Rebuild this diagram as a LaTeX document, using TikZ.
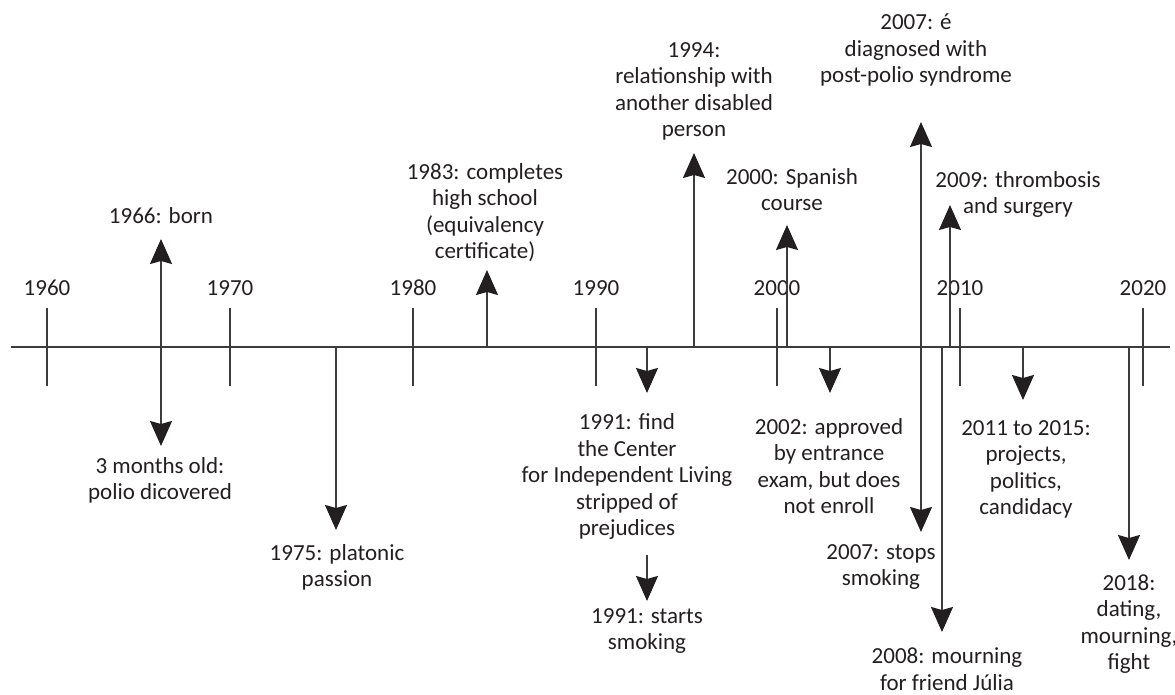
\documentclass[tikz,border=0pt]{standalone}
\usepackage{fontspec}
\setmainfont{Carlito}
\usetikzlibrary{arrows.meta}
\definecolor{ink}{RGB}{35,31,32}
\definecolor{rule}{RGB}{60,60,60}
\begin{document}
\begin{tikzpicture}[x=0.5pt, y=-0.5pt,
    lbl/.style={align=center, anchor=base, inner sep=0pt, text=ink,
        font=\fontsize{11.5}{13.25}\selectfont},
    yr/.style={lbl},
    tick/.style={draw=rule, line width=0.8pt},
    evt/.style={draw=rule, line width=0.8pt,
        -{Stealth[length=12.5pt, width=11pt, inset=1.5pt, color=ink]}}]
    \useasboundingbox (0,0) rectangle (1175,695);

    % time axis
    \coordinate (L) at (11,347);
    \coordinate (R) at (1170,347);
    \draw[tick, line width=1pt] (L) -- (R);

    \foreach \y/\x in {1960/47, 1970/230, 1980/413, 1990/596, 2000/777, 2010/960, 2020/1143} {
        \draw[tick] (\x,308) -- (\x,386);
        \node[yr] (Y\y) at (\x,296) {\y};
    }

    % points on the axis
    \coordinate (A66) at (161,347);
    \coordinate (A75) at (336,347);
    \coordinate (A83) at (487,347);
    \coordinate (A91) at (647,347);
    \coordinate (A94) at (694,347);
    \coordinate (A00) at (787,347);
    \coordinate (A02) at (830,347);
    \coordinate (A07) at (921,347);
    \coordinate (A08) at (942,347);
    \coordinate (A09) at (950,347);
    \coordinate (A11) at (1023,347);
    \coordinate (A18) at (1129,347);

    % arrow tips
    \coordinate (T66u) at (161,239);
    \coordinate (T66d) at (161,446);
    \coordinate (T75) at (336,530);
    \coordinate (T83) at (487,270);
    \coordinate (T91) at (647,393);
    \coordinate (S91) at (647,555);
    \coordinate (T91s) at (647,601);
    \coordinate (T94) at (694,153);
    \coordinate (T00) at (787,225);
    \coordinate (T02) at (830,393);
    \coordinate (T07u) at (921,122);
    \coordinate (T07d) at (921,532);
    \coordinate (T08) at (942,632);
    \coordinate (T09) at (950,205);
    \coordinate (T11) at (1023,400);
    \coordinate (T18) at (1129,560);

    % events (anchored on the baseline of the last line)
    \node[lbl] (born) at (161,224) {1966: born};
    \node[lbl] (polio) at (160,500) {3 months old:\\polio dicovered};
    \node[lbl] (platonic) at (337,587) {1975: platonic\\passion};
    \node[lbl] (school) at (485,259) {1983: completes\\high school\\(equivalency\\certificate)};
    \node[lbl] (center) at (627,536) {1991: find\\the Center\\for Independent Living\\stripped of\\prejudices};
    \node[lbl] (smoke) at (647,650) {1991: starts\\smoking};
    \node[lbl] (relation) at (694,137) {1994:\\relationship with\\another disabled\\person};
    \node[lbl] (spanish) at (792,211) {2000: Spanish\\course};
    \node[lbl] (exam) at (829,514) {2002: approved\\by entrance\\exam, but does\\not enroll};
    \node[lbl] (diag) at (916,83) {2007: é\\diagnosed with\\post-polio syndrome};
    \node[lbl] (stops) at (881,586) {2007: stops\\smoking};
    \node[lbl] (julia) at (947,690) {2008: mourning\\for friend Júlia};
    \node[lbl] (thromb) at (1018,214) {2009: thrombosis\\and surgery};
    \node[lbl] (projects) at (1026,515) {2011 to 2015:\\projects,\\politics,\\candidacy};
    \node[lbl] (dating) at (1129,670) {2018:\\dating,\\mourning,\\fight};

    \draw[evt] (A66) -- (T66u);
    \draw[evt] (A66) -- (T66d);
    \draw[evt] (A75) -- (T75);
    \draw[evt] (A83) -- (T83);
    \draw[evt] (A91) -- (T91);
    \draw[evt] (S91) -- (T91s);
    \draw[evt] (A94) -- (T94);
    \draw[evt] (A00) -- (T00);
    \draw[evt] (A02) -- (T02);
    \draw[evt] (A07) -- (T07u);
    \draw[evt] (A07) -- (T07d);
    \draw[evt] (A08) -- (T08);
    \draw[evt] (A09) -- (T09);
    \draw[evt] (A11) -- (T11);
    \draw[evt] (A18) -- (T18);
\end{tikzpicture}
\end{document}
